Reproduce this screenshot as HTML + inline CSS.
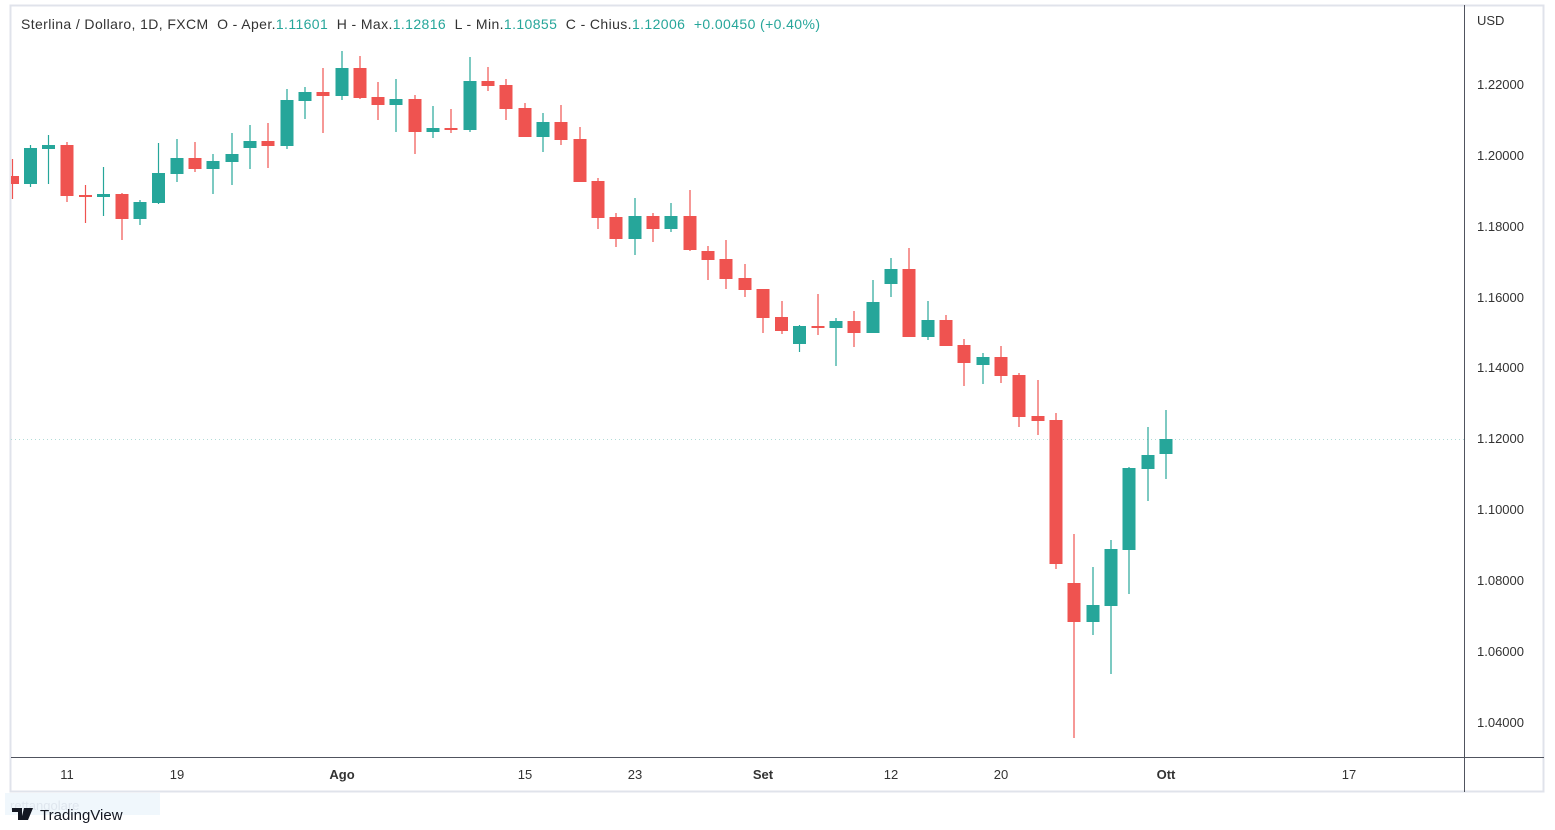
<!DOCTYPE html>
<html><head><meta charset="utf-8"><style>
html,body{margin:0;padding:0;background:#fff;width:1555px;height:830px;overflow:hidden}
svg{display:block}
text{font-family:"Liberation Sans",sans-serif;white-space:pre}
</style></head><body>
<svg width="1555" height="830" viewBox="0 0 1555 830" xmlns="http://www.w3.org/2000/svg">
<rect x="0" y="0" width="1555" height="830" fill="#fff"/>
<rect x="10.5" y="5.5" width="1533" height="786" fill="none" stroke="#e0e3eb" stroke-width="2"/>
<line x1="1464.5" y1="5" x2="1464.5" y2="792" stroke="#50535e" stroke-width="1"/>
<line x1="11" y1="757.5" x2="1544" y2="757.5" stroke="#50535e" stroke-width="1"/>
<line x1="11" y1="439.5" x2="1464" y2="439.5" stroke="#b2dcd8" stroke-width="1" stroke-dasharray="1,3"/>
<text x="21" y="29" font-size="14" fill="#333" textLength="799" lengthAdjust="spacing" xml:space="preserve">Sterlina / Dollaro, 1D, FXCM  O - Aper.<tspan fill="#26a69a">1.11601</tspan>  H - Max.<tspan fill="#26a69a">1.12816</tspan>  L - Min.<tspan fill="#26a69a">1.10855</tspan>  C - Chius.<tspan fill="#26a69a">1.12006</tspan>  <tspan fill="#26a69a">+0.00450 (+0.40%)</tspan></text>
<g font-size="13" fill="#333">
<text x="1477" y="25">USD</text>
<text x="1477" y="89">1.22000</text>
<text x="1477" y="160">1.20000</text>
<text x="1477" y="231">1.18000</text>
<text x="1477" y="302">1.16000</text>
<text x="1477" y="372">1.14000</text>
<text x="1477" y="443">1.12000</text>
<text x="1477" y="514">1.10000</text>
<text x="1477" y="585">1.08000</text>
<text x="1477" y="656">1.06000</text>
<text x="1477" y="727">1.04000</text>
</g>
<g font-size="13" fill="#333" text-anchor="middle">
<text x="67" y="779">11</text>
<text x="177" y="779">19</text>
<text x="342" y="779" font-weight="bold">Ago</text>
<text x="525" y="779">15</text>
<text x="635" y="779">23</text>
<text x="763" y="779" font-weight="bold">Set</text>
<text x="891" y="779">12</text>
<text x="1001" y="779">20</text>
<text x="1166" y="779" font-weight="bold">Ott</text>
<text x="1349" y="779">17</text>
</g>
<rect x="5" y="793" width="155" height="22" fill="#f0f7fc"/>
<text x="10" y="810" font-size="13" fill="#dfe6ee">rettangolare</text>
<path d="M12 808h10v12h-4v-8h-6z M24 808h4l-3 12h-4z M28 808h5l-5 12h-3" fill="#131722"/>
<text x="40" y="820" font-size="15" fill="#131722">TradingView</text>

<g id="c">
<g stroke="#26a69a" stroke-width="1.2">
<line x1="30.5" y1="145" x2="30.5" y2="187"/><line x1="48.5" y1="135" x2="48.5" y2="184"/>
<line x1="103.5" y1="167" x2="103.5" y2="216"/><line x1="140" y1="200" x2="140" y2="225"/>
<line x1="158.5" y1="143" x2="158.5" y2="204"/><line x1="177" y1="139" x2="177" y2="182"/>
<line x1="213" y1="154" x2="213" y2="194"/><line x1="232" y1="133" x2="232" y2="185"/>
<line x1="250" y1="125" x2="250" y2="169"/><line x1="287" y1="89" x2="287" y2="149"/>
<line x1="305" y1="87" x2="305" y2="119"/><line x1="342" y1="51" x2="342" y2="100"/>
<line x1="396" y1="79" x2="396" y2="132"/><line x1="433" y1="106" x2="433" y2="138"/>
<line x1="470" y1="57" x2="470" y2="132"/><line x1="543" y1="113" x2="543" y2="152"/>
<line x1="635" y1="198" x2="635" y2="255"/><line x1="671" y1="203" x2="671" y2="232"/>
<line x1="799.5" y1="325" x2="799.5" y2="352"/><line x1="836" y1="318" x2="836" y2="366"/>
<line x1="873" y1="280" x2="873" y2="333"/><line x1="891" y1="258" x2="891" y2="297"/>
<line x1="928" y1="301" x2="928" y2="340"/><line x1="983" y1="353" x2="983" y2="384"/>
<line x1="1093" y1="567" x2="1093" y2="635"/><line x1="1111" y1="540" x2="1111" y2="674"/>
<line x1="1129" y1="467" x2="1129" y2="594"/><line x1="1148" y1="427" x2="1148" y2="501"/>
<line x1="1166" y1="410" x2="1166" y2="479"/>
</g>
<g fill="#26a69a">
<rect x="24" y="148" width="13" height="36"/><rect x="42" y="145" width="13" height="4"/>
<rect x="97" y="194" width="13" height="3"/><rect x="133.5" y="202" width="13" height="17"/>
<rect x="152" y="173" width="13" height="30"/><rect x="170.5" y="158" width="13" height="16"/>
<rect x="206.5" y="161" width="13" height="8"/><rect x="225.5" y="154" width="13" height="8"/>
<rect x="243.5" y="141" width="13" height="7"/><rect x="280.5" y="100" width="13" height="46"/>
<rect x="298.5" y="92" width="13" height="9"/><rect x="335.5" y="68" width="13" height="28"/>
<rect x="389.5" y="99" width="13" height="6"/><rect x="426.5" y="128" width="13" height="4"/>
<rect x="463.5" y="81" width="13" height="49"/><rect x="536.5" y="122" width="13" height="15"/>
<rect x="628.5" y="216" width="13" height="23"/><rect x="664.5" y="216" width="13" height="13"/>
<rect x="793" y="326" width="13" height="18"/><rect x="829.5" y="321" width="13" height="7"/>
<rect x="866.5" y="302" width="13" height="31"/><rect x="884.5" y="269" width="13" height="15"/>
<rect x="921.5" y="320" width="13" height="17"/><rect x="976.5" y="357" width="13" height="8"/>
<rect x="1086.5" y="605" width="13" height="17"/><rect x="1104.5" y="549" width="13" height="57"/>
<rect x="1122.5" y="468" width="13" height="82"/><rect x="1141.5" y="455" width="13" height="14"/>
<rect x="1159.5" y="439" width="13" height="15"/>
</g>
<g stroke="#ef5350" stroke-width="1.2">
<line x1="12.5" y1="159" x2="12.5" y2="199"/><line x1="67" y1="142" x2="67" y2="202"/>
<line x1="85.5" y1="185" x2="85.5" y2="223"/><line x1="122" y1="193" x2="122" y2="240"/>
<line x1="195" y1="142" x2="195" y2="172"/><line x1="268" y1="123" x2="268" y2="168"/>
<line x1="323" y1="68" x2="323" y2="133"/><line x1="360" y1="56" x2="360" y2="99"/>
<line x1="378" y1="82" x2="378" y2="120"/><line x1="415" y1="95" x2="415" y2="154"/>
<line x1="451" y1="109" x2="451" y2="133"/><line x1="488" y1="67" x2="488" y2="91"/>
<line x1="506" y1="79" x2="506" y2="120"/><line x1="525" y1="103" x2="525" y2="137"/>
<line x1="561" y1="105" x2="561" y2="145"/><line x1="580" y1="127" x2="580" y2="182"/>
<line x1="598" y1="178" x2="598" y2="229"/><line x1="616" y1="213" x2="616" y2="247"/>
<line x1="653" y1="213" x2="653" y2="242"/><line x1="690" y1="190" x2="690" y2="251"/>
<line x1="708" y1="246" x2="708" y2="280"/><line x1="726" y1="240" x2="726" y2="289"/>
<line x1="745" y1="264" x2="745" y2="297"/><line x1="763" y1="289" x2="763" y2="333"/>
<line x1="782" y1="301" x2="782" y2="334"/><line x1="818" y1="294" x2="818" y2="335"/>
<line x1="854" y1="311" x2="854" y2="347"/><line x1="909" y1="248" x2="909" y2="337"/>
<line x1="946" y1="315" x2="946" y2="346"/><line x1="964" y1="339" x2="964" y2="386"/>
<line x1="1001" y1="346" x2="1001" y2="383"/><line x1="1019" y1="373" x2="1019" y2="427"/>
<line x1="1038" y1="380" x2="1038" y2="435"/><line x1="1056" y1="413" x2="1056" y2="569"/>
<line x1="1074" y1="534" x2="1074" y2="738"/>
</g>
<g fill="#ef5350">
<rect x="11" y="176" width="8" height="8"/><rect x="60.5" y="145" width="13" height="51"/>
<rect x="79" y="195" width="13" height="2"/><rect x="115.5" y="194" width="13" height="25"/>
<rect x="188.5" y="158" width="13" height="11"/><rect x="261.5" y="141" width="13" height="5"/>
<rect x="316.5" y="92" width="13" height="4"/><rect x="353.5" y="68" width="13" height="30"/>
<rect x="371.5" y="97" width="13" height="8"/><rect x="408.5" y="99" width="13" height="33"/>
<rect x="444.5" y="128" width="13" height="2"/><rect x="481.5" y="81" width="13" height="5"/>
<rect x="499.5" y="85" width="13" height="24"/><rect x="518.5" y="108" width="13" height="29"/>
<rect x="554.5" y="122" width="13" height="18"/><rect x="573.5" y="139" width="13" height="43"/>
<rect x="591.5" y="181" width="13" height="37"/><rect x="609.5" y="217" width="13" height="22"/>
<rect x="646.5" y="216" width="13" height="13"/><rect x="683.5" y="216" width="13" height="34"/>
<rect x="701.5" y="251" width="13" height="9"/><rect x="719.5" y="259" width="13" height="20"/>
<rect x="738.5" y="278" width="13" height="12"/><rect x="756.5" y="289" width="13" height="29"/>
<rect x="775" y="317" width="13" height="14"/><rect x="811.5" y="326" width="13" height="2"/>
<rect x="847.5" y="321" width="13" height="12"/><rect x="902.5" y="269" width="13" height="68"/>
<rect x="939.5" y="320" width="13" height="26"/><rect x="957.5" y="345" width="13" height="18"/>
<rect x="994.5" y="357" width="13" height="19"/><rect x="1012.5" y="375" width="13" height="42"/>
<rect x="1031.5" y="416" width="13" height="5"/><rect x="1049.5" y="420" width="13" height="144"/>
<rect x="1067.5" y="583" width="13" height="39"/>
</g>
</g>
</svg>
</body></html>
